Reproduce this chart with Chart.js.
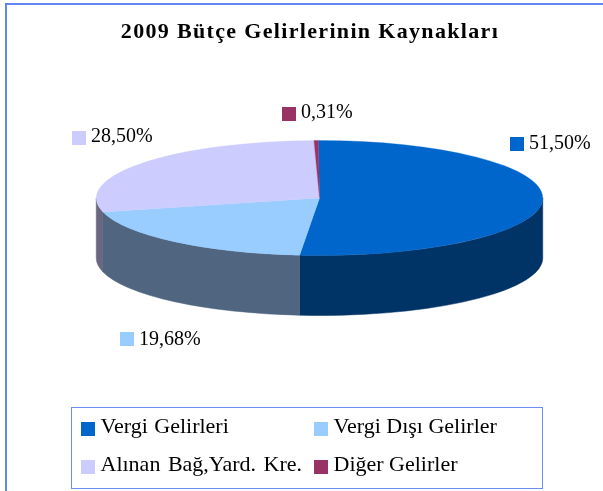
<!DOCTYPE html>
<html lang="tr">
<head>
<meta charset="utf-8">
<script src="https://cdn.jsdelivr.net/npm/chart.js@4"></script>
<style>
html,body{margin:0;padding:0;background:#fff;width:603px;height:491px;overflow:hidden}
#wrap{position:relative;width:603px;height:491px;font-family:"Liberation Serif",serif;color:#000}
#frame{position:absolute;left:5px;top:3px;width:700px;height:600px;border:2px solid #5f86f2;box-sizing:border-box}
canvas{position:absolute;left:0;top:0}
#title{position:absolute;left:0;top:19px;width:620px;text-align:center;font-weight:bold;font-size:22px;letter-spacing:1.33px;line-height:24px;white-space:nowrap}
.tag{position:absolute;font-size:20px;line-height:24px;white-space:nowrap}
.item{position:absolute;font-size:22px;line-height:24px;white-space:nowrap}
.sq{position:absolute;width:14px;height:14px}
#legend{position:absolute;left:71px;top:407px;width:472px;height:82px;border:1.5px solid #6a8cf4;box-sizing:border-box}
</style>
</head>
<body>
<div id="wrap">
  <div id="frame"></div>
  <canvas id="c" width="603" height="491"></canvas>
  <div id="title"></div>
  <div id="legend"></div>
</div>
<script>
const chartTitle = "2009 Bütçe Gelirlerinin Kaynakları";
const categories = ["Vergi Gelirleri", "Vergi Dışı Gelirler", "Alınan Bağ,Yard. Kre.", "Diğer Gelirler"];
const values = [51.50, 19.68, 28.50, 0.31];
const topColors = ["#0066cc", "#99ccff", "#ccccff", "#993366"];
const wallColors = ["#003366", "#4f6580", "#67677f", "#4d1a33"];

// layout of the free-standing labels and legend entries
const tagSpots = [[510, 137], [120, 332], [72, 131], [282, 107]];
const tagTextRise = [7, 6, 8, 8];
const legendSpots = [[81, 421.5], [314, 421.5], [81, 459.5], [314, 459.5]];
const legendWordGaps = [1, 0, 2, 0];
const ellipseCenterY = 198, ellipseRy = 57.5, wallDepth = 60;

document.getElementById("title").textContent = chartTitle;
const wrap = document.getElementById("wrap");
function addEntry(x, y, colour, text, cls, gap, rise) {
  const s = document.createElement("div");
  s.className = "sq"; s.style.left = x + "px"; s.style.top = y + "px"; s.style.background = colour;
  const t = document.createElement("div");
  t.className = cls; t.style.left = (x + gap) + "px"; t.style.top = (y - rise) + "px"; t.textContent = text;
  wrap.appendChild(s); wrap.appendChild(t);
  return t;
}
values.forEach((v, i) => addEntry(tagSpots[i][0], tagSpots[i][1], topColors[i], v.toFixed(2).replace(".", ",") + "%", "tag", 19, tagTextRise[i]));
categories.forEach((c, i) => {
  const t = addEntry(legendSpots[i][0], legendSpots[i][1], topColors[i], c, "item", 19.5, 7.5);
  t.style.wordSpacing = legendWordGaps[i] + "px";
});

const pie3d = {
  id: "pie3d",
  beforeDatasetsDraw(chart) {
    const ctx = chart.ctx, arcs = chart.getDatasetMeta(0).data;
    const cx = arcs[0].x, rx = arcs[0].outerRadius;
    ctx.save();
    arcs.forEach((a, i) => {
      const from = Math.max(a.startAngle, 0), to = Math.min(a.endAngle, Math.PI);
      if (to <= from) return;
      ctx.beginPath();
      ctx.ellipse(cx, ellipseCenterY, rx, ellipseRy, 0, from, to);
      ctx.ellipse(cx, ellipseCenterY + wallDepth, rx, ellipseRy, 0, to, from, true);
      ctx.closePath();
      ctx.fillStyle = wallColors[i];
      ctx.strokeStyle = wallColors[i];
      ctx.lineWidth = 0.5;
      ctx.fill();
      ctx.stroke();
    });
    ctx.restore();
    ctx.save();
    const cy = arcs[0].y, k = ellipseRy / rx;
    ctx.translate(0, ellipseCenterY);
    ctx.scale(1, k);
    ctx.translate(0, -cy);
  },
  afterDatasetsDraw(chart) { chart.ctx.restore(); }
};

new Chart(document.getElementById("c"), {
  type: "pie",
  data: {
    labels: categories,
    datasets: [{ data: values, backgroundColor: topColors, borderColor: topColors, borderWidth: 0.5, clip: false }]
  },
  options: {
    responsive: false,
    animation: false,
    events: [],
    rotation: -0.3,
    layout: { padding: { left: 96, right: 60, top: 0, bottom: 44 } },
    plugins: { legend: { display: false }, title: { display: false }, tooltip: { enabled: false } }
  },
  plugins: [pie3d]
});
</script>
</body>
</html>
